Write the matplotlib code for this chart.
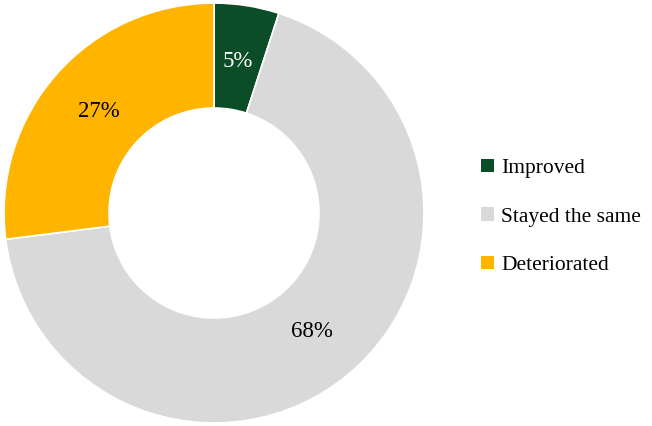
import matplotlib
matplotlib.use("Agg")
import matplotlib.pyplot as plt
from matplotlib.patches import Patch

categories = ["Improved", "Stayed the same", "Deteriorated"]
values = [5, 68, 27]
colors = ["#0B4D26", "#D9D9D9", "#FFB500"]
label_colors = ["white", "black", "black"]

plt.rcParams["font.family"] = ["Liberation Serif", "DejaVu Serif"]

fig = plt.figure(figsize=(6.52, 4.26), dpi=100)
ax = fig.add_axes([3 / 652, 2 / 426, 422 / 652, 422 / 426])

wedges, texts, autotexts = ax.pie(
    values,
    colors=colors,
    startangle=90,
    counterclock=False,
    autopct=lambda p: f"{p:.0f}%",
    pctdistance=0.73,
    wedgeprops=dict(width=0.5, edgecolor="white", linewidth=1.2),
    textprops=dict(fontsize=16.5),
)
for t, c in zip(autotexts, label_colors):
    t.set_color(c)
ax.set_aspect("equal")
ax.set_xlim(-1.005, 1.005)
ax.set_ylim(-1.005, 1.005)

handles = [Patch(facecolor=c, edgecolor="none") for c in colors]
fig.legend(
    handles, categories,
    loc="center left",
    bbox_to_anchor=(481 / 652, 209 / 426),
    frameon=False,
    borderpad=0,
    borderaxespad=0,
    fontsize=15.5,
    handlelength=0.6,
    handleheight=0.6,
    handletextpad=0.35,
    labelspacing=1.35,
)

fig.savefig("out.png", dpi=100)
